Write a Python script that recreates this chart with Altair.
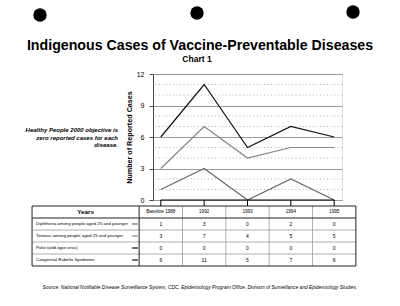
import altair as alt
import pandas as pd

# ---- data -------------------------------------------------------------
years = ["Baseline 1988", "1992", "1993", "1994", "1995"]
diseases = [
    "Diphtheria among people aged 25 and younger",
    "Tetanus among people aged 25 and younger",
    "Polio (wild-type virus)",
    "Congenital Rubella Syndrome",
]
diphtheria = [1, 3, 0, 2, 0]
tetanus = [3, 7, 4, 5, 5]
polio = [0, 0, 0, 0, 0]
rubella = [6, 11, 5, 7, 6]

solid_ticks = [0, 3, 6, 9, 12]
dotted_ticks = [1, 2, 4, 5, 7, 8, 10, 11]

title_text = "Indigenous Cases of Vaccine-Preventable Diseases"
subtitle_text = "Chart 1"
y_title = "Number of Reported Cases"
years_header = "Years"
note_lines = [
    "Healthy People 2000 objective is",
    "zero reported cases for each",
    "disease.",
]
source_text = ("Source: National Notifiable Disease Surveillance System,  CDC, "
               "Epidemiology Program Office, Division of Surveillance and Epidemiology Studies.")

series = [diphtheria, tetanus, polio, rubella]

# ---- styling ------------------------------------------------------------
FONT = "Liberation Sans"
line_colors = ["#6a6a6a", "#858585", "#000000", "#111111"]
line_widths = [1.2, 1.2, 2.4, 1.3]

# column units: one unit per year column; the label column sits to the left
LABEL_LEFT = -2.97
LABEL_RIGHT = -0.5
TABLE_RIGHT = 4.5
DASH_LEFT = -0.66
DASH_RIGHT = -0.53

X = alt.Scale(domain=[-0.18, 4.18], zero=False, nice=False)
Y_CASES = alt.Scale(domain=[0, 12], zero=False, nice=False)
Y_TABLE = alt.Scale(domain=[0, 5], range=[132, 192], zero=False, nice=False)

AX_Y = alt.Axis(
    values=solid_ticks, grid=True, gridColor="#9a9a9a", gridWidth=1,
    domainColor="#444", tickColor="#444", tickSize=4, labelPadding=5,
    labelFont=FONT, labelFontSize=7, labelColor="#000",
    title=y_title, titleFont=FONT, titleFontSize=7.2, titleFontWeight="bold",
    titleColor="#000", titlePadding=3,
)
COLOR = alt.Color("disease:N", scale=alt.Scale(domain=diseases, range=line_colors), legend=None)
WIDTH = alt.StrokeWidth("disease:N", scale=alt.Scale(domain=diseases, range=line_widths), legend=None)

# ---- tables -------------------------------------------------------------
long_rows = []
for ci, yr in enumerate(years):
    for ri, (name, vals) in enumerate(zip(diseases, series)):
        long_rows.append({"col": ci, "year": yr, "disease": name,
                          "row": ri + 1.5, "value": vals[ci]})
df = pd.DataFrame(long_rows)

header_df = pd.DataFrame({"col": list(range(len(years))), "year": years, "row": 0.5})
rowlab_df = pd.DataFrame({"disease": diseases, "row": [r + 1.5 for r in range(len(diseases))],
                          "left": LABEL_LEFT})
dash_df = pd.DataFrame({"disease": diseases, "row": [r + 1.5 for r in range(len(diseases))],
                        "x1": DASH_LEFT, "x2": DASH_RIGHT})
hl_strong = pd.DataFrame({"r": [0, 1, 5], "x1": LABEL_LEFT, "x2": TABLE_RIGHT})
hl_light = pd.DataFrame({"r": [2, 3, 4], "x1": LABEL_LEFT, "x2": TABLE_RIGHT})
vl_strong = pd.DataFrame({"c": [LABEL_LEFT, LABEL_RIGHT, TABLE_RIGHT], "r1": 0, "r2": 5})
vl_light = pd.DataFrame({"c": [0.5, 1.5, 2.5, 3.5], "r1": 0, "r2": 5})
conn_df = pd.DataFrame({"col": list(range(len(years))), "r1": -0.5, "r2": 0})
years_hdr_df = pd.DataFrame({"c": [(LABEL_LEFT + LABEL_RIGHT) / 2], "row": [0.5], "t": [years_header]})

# ---- line chart ---------------------------------------------------------
dotted = alt.Chart(pd.DataFrame({"v": dotted_ticks})).mark_rule(
    color="#a8a8a8", strokeDash=[1, 2.5], strokeWidth=0.9
).encode(y=alt.Y("v:Q", scale=Y_CASES, axis=AX_Y))

lines = alt.Chart(df).mark_line().encode(
    x=alt.X("col:Q", scale=X, axis=None),
    y=alt.Y("value:Q", scale=Y_CASES, axis=AX_Y),
    color=COLOR, strokeWidth=WIDTH,
)
plot = alt.layer(dotted, lines)

# ---- data table under the chart ----------------------------------------
def hrules(d, color, w):
    return alt.Chart(d).mark_rule(color=color, strokeWidth=w).encode(
        x=alt.X("x1:Q", scale=X, axis=None), x2="x2:Q",
        y=alt.Y("r:Q", scale=Y_TABLE, axis=None))

def vrules(d, color, w):
    return alt.Chart(d).mark_rule(color=color, strokeWidth=w).encode(
        x=alt.X("c:Q", scale=X, axis=None),
        y=alt.Y("r1:Q", scale=Y_TABLE, axis=None), y2="r2:Q")

connectors = alt.Chart(conn_df).mark_rule(color="#000", strokeWidth=1).encode(
    x=alt.X("col:Q", scale=X, axis=None),
    y=alt.Y("r1:Q", scale=Y_TABLE, axis=None), y2="r2:Q")

dashes = alt.Chart(dash_df).mark_rule().encode(
    x=alt.X("x1:Q", scale=X, axis=None), x2="x2:Q",
    y=alt.Y("row:Q", scale=Y_TABLE, axis=None),
    color=COLOR, strokeWidth=WIDTH)

years_hdr = alt.Chart(years_hdr_df).mark_text(
    font=FONT, fontSize=6.2, fontWeight="bold", color="#000", baseline="middle"
).encode(x=alt.X("c:Q", scale=X, axis=None),
         y=alt.Y("row:Q", scale=Y_TABLE, axis=None), text="t:N")

col_hdr = alt.Chart(header_df).mark_text(
    font=FONT, fontSize=4.6, color="#000", baseline="middle"
).encode(x=alt.X("col:Q", scale=X, axis=None),
         y=alt.Y("row:Q", scale=Y_TABLE, axis=None), text="year:N")

row_labels = alt.Chart(rowlab_df).mark_text(
    font=FONT, fontSize=4.4, color="#000", baseline="middle", align="left", dx=4
).encode(x=alt.X("left:Q", scale=X, axis=None),
         y=alt.Y("row:Q", scale=Y_TABLE, axis=None), text="disease:N")

cells = alt.Chart(df).mark_text(
    font=FONT, fontSize=5, color="#000", baseline="middle"
).encode(x=alt.X("col:Q", scale=X, axis=None),
         y=alt.Y("row:Q", scale=Y_TABLE, axis=None), text="value:Q")

table = alt.layer(
    hrules(hl_light, "#9a9a9a", 0.8), vrules(vl_light, "#9a9a9a", 0.8),
    hrules(hl_strong, "#222", 1), vrules(vl_strong, "#222", 1),
    connectors, dashes, years_hdr, col_hdr, row_labels, cells,
)

# ---- page decorations: punch holes, headings, note and source -----------
one = pd.DataFrame({"k": [0]})

def punch(px, py):
    return alt.Chart(one).mark_circle(color="#000", opacity=1, size=180).encode(
        x=alt.value(px), y=alt.value(py))

heading = alt.Chart(one).mark_text(
    text=title_text, font=FONT, fontSize=14.2, fontWeight="bold",
    align="center", baseline="alphabetic", color="#000"
).encode(x=alt.value(47), y=alt.value(-24))

subheading = alt.Chart(one).mark_text(
    text=subtitle_text, font=FONT, fontSize=8.5, fontWeight="bold",
    align="center", baseline="alphabetic", color="#000"
).encode(x=alt.value(44), y=alt.value(-12))

note = alt.Chart(one).mark_text(
    text=note_lines, font=FONT, fontSize=6, fontStyle="italic", fontWeight="bold",
    align="right", baseline="middle", lineHeight=7.7, color="#000"
).encode(x=alt.value(-35), y=alt.value(56))

source = alt.Chart(one).mark_text(
    text=source_text, font=FONT, fontSize=4.9, fontStyle="italic",
    align="center", baseline="middle", color="#000"
).encode(x=alt.value(47), y=alt.value(214))

deco = alt.layer(punch(-113, -59), punch(44, -61), punch(200, -62),
                 heading, subheading, note, source)

chart = alt.layer(plot, table, deco).resolve_scale(y="independent").properties(
    width=189, height=126,
    autosize=alt.AutoSizeParams(type="none"),
    padding={"left": 153, "top": 74, "right": 58, "bottom": 106},
).configure_view(stroke=None).configure(background="#ffffff")

chart.save("out.html", embed_options={"renderer": "svg", "actions": False})
